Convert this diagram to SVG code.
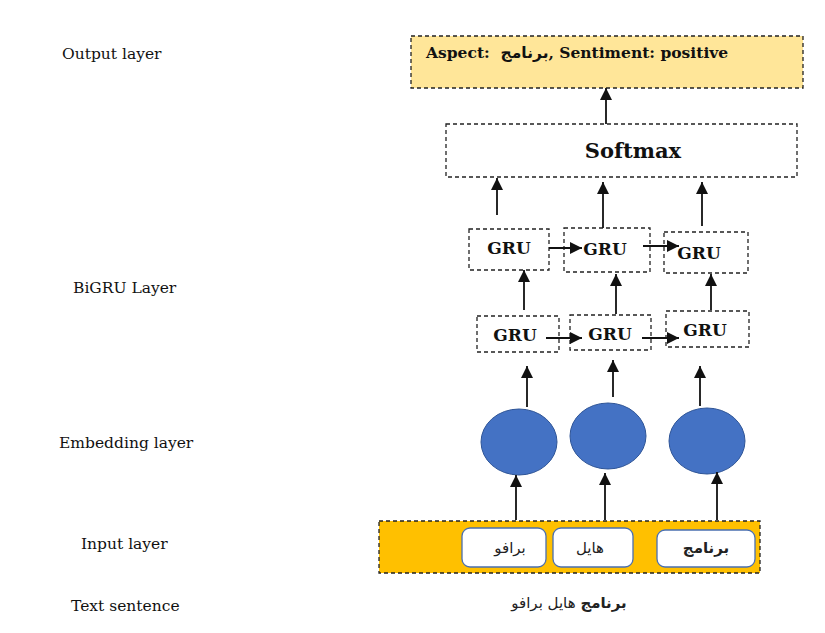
<svg xmlns="http://www.w3.org/2000/svg" width="825" height="633" viewBox="0 0 825 633">
<style>
.lbl{font-family:"DejaVu Serif","Liberation Serif",serif;font-size:15.5px;fill:#111}
.dash{fill:none;stroke:#222;stroke-width:1.3;stroke-dasharray:4 3}
.gru{font-family:"DejaVu Serif","Liberation Serif",serif;font-size:17px;font-weight:bold;fill:#111}
.ar{font-family:"DejaVu Sans",sans-serif;font-size:15px;fill:#222}
.emb{fill:#4472C4;stroke:#2F5597;stroke-width:1}
.tok{fill:#fff;stroke:#4A6FB0;stroke-width:1.3}
.cn{stroke:#111;stroke-width:1.8;fill:none;marker-end:url(#ah)}
</style>
<defs>
<marker id="ah" markerUnits="userSpaceOnUse" markerWidth="12" markerHeight="12" viewBox="0 0 10 10" refX="10" refY="5" orient="auto">
<path d="M0,0 L10,5 L0,10 z" fill="#111"/>
</marker>
</defs>
<rect width="825" height="633" fill="#fff"/>
<g id="labels">
<text class="lbl" x="62" y="59">Output layer</text>
<text class="lbl" x="73" y="293">BiGRU Layer</text>
<text class="lbl" x="59" y="448">Embedding layer</text>
<text class="lbl" x="81" y="549">Input layer</text>
<text class="lbl" x="71" y="611">Text sentence</text>
</g>
<g id="output">
<rect x="411" y="36" width="392" height="52" class="dash" style="fill:#FFE699"/>
<text x="426" y="58" style="font-family:'DejaVu Serif','Liberation Serif',serif;font-size:15.5px;font-weight:bold;fill:#111;white-space:pre">Aspect:  <tspan style="font-family:'DejaVu Sans',sans-serif">برنامج</tspan>, Sentiment: positive</text>
</g>
<g id="softmax">
<rect x="446" y="124" width="351" height="53" class="dash"/>
<text x="633" y="158" text-anchor="middle" style="font-family:'DejaVu Serif','Liberation Serif',serif;font-size:21px;font-weight:bold;fill:#111">Softmax</text>
</g>
<g id="gru-top-1"><rect x="469" y="229" width="80" height="41" class="dash"/><text class="gru" x="509" y="254" text-anchor="middle">GRU</text></g>
<g id="gru-top-2"><rect x="564" y="228" width="86" height="44" class="dash"/><text class="gru" x="605" y="255" text-anchor="middle">GRU</text></g>
<g id="gru-top-3"><rect x="664" y="232" width="84" height="41" class="dash"/><text class="gru" x="699" y="259" text-anchor="middle">GRU</text></g>
<g id="gru-bot-1"><rect x="477" y="316" width="82" height="36" class="dash"/><text class="gru" x="515" y="341" text-anchor="middle">GRU</text></g>
<g id="gru-bot-2"><rect x="570" y="315" width="81" height="35" class="dash"/><text class="gru" x="610" y="340" text-anchor="middle">GRU</text></g>
<g id="gru-bot-3"><rect x="666" y="311" width="83" height="36" class="dash"/><text class="gru" x="705" y="336" text-anchor="middle">GRU</text></g>
<g id="emb-1"><ellipse cx="519" cy="442" rx="38" ry="33" class="emb"/></g>
<g id="emb-2"><ellipse cx="608" cy="436" rx="38" ry="33" class="emb"/></g>
<g id="emb-3"><ellipse cx="707" cy="441" rx="38" ry="33" class="emb"/></g>
<g id="input">
<rect x="379" y="521" width="381" height="52" class="dash" style="fill:#FFC000"/>
<rect x="462" y="528" width="84" height="39" rx="8" class="tok"/>
<rect x="553" y="528" width="80" height="39" rx="8" class="tok"/>
<rect x="657" y="530" width="98" height="37" rx="8" class="tok"/>
<text class="ar" x="510" y="553" text-anchor="middle">برافو</text>
<text class="ar" x="590" y="553" text-anchor="middle">هايل</text>
<text class="ar" x="706" y="553" text-anchor="middle" font-weight="bold">برنامج</text>
</g>
<g id="sentence">
<text class="ar" x="569" y="608" text-anchor="middle" direction="rtl"><tspan font-weight="bold">برنامج</tspan> هايل برافو</text>
</g>
<g id="connectors">
<line class="cn" x1="606" y1="124" x2="606" y2="88"/>
<line class="cn" x1="497" y1="215" x2="497" y2="178"/>
<line class="cn" x1="603" y1="228" x2="603" y2="182"/>
<line class="cn" x1="702" y1="226" x2="702" y2="182"/>
<line class="cn" x1="549" y1="248" x2="582" y2="248"/>
<line class="cn" x1="643" y1="246" x2="679" y2="246"/>
<line class="cn" x1="546" y1="338" x2="582" y2="338"/>
<line class="cn" x1="642" y1="338" x2="679" y2="338"/>
<line class="cn" x1="524" y1="310" x2="524" y2="270"/>
<line class="cn" x1="616" y1="314" x2="616" y2="274"/>
<line class="cn" x1="711" y1="310" x2="711" y2="274"/>
<line class="cn" x1="527" y1="407" x2="527" y2="366"/>
<line class="cn" x1="613" y1="397" x2="613" y2="360"/>
<line class="cn" x1="700" y1="406" x2="700" y2="366"/>
<line class="cn" x1="516" y1="520" x2="516" y2="475"/>
<line class="cn" x1="605" y1="520" x2="605" y2="473"/>
<line class="cn" x1="717" y1="520" x2="717" y2="472"/>
</g>
</svg>
